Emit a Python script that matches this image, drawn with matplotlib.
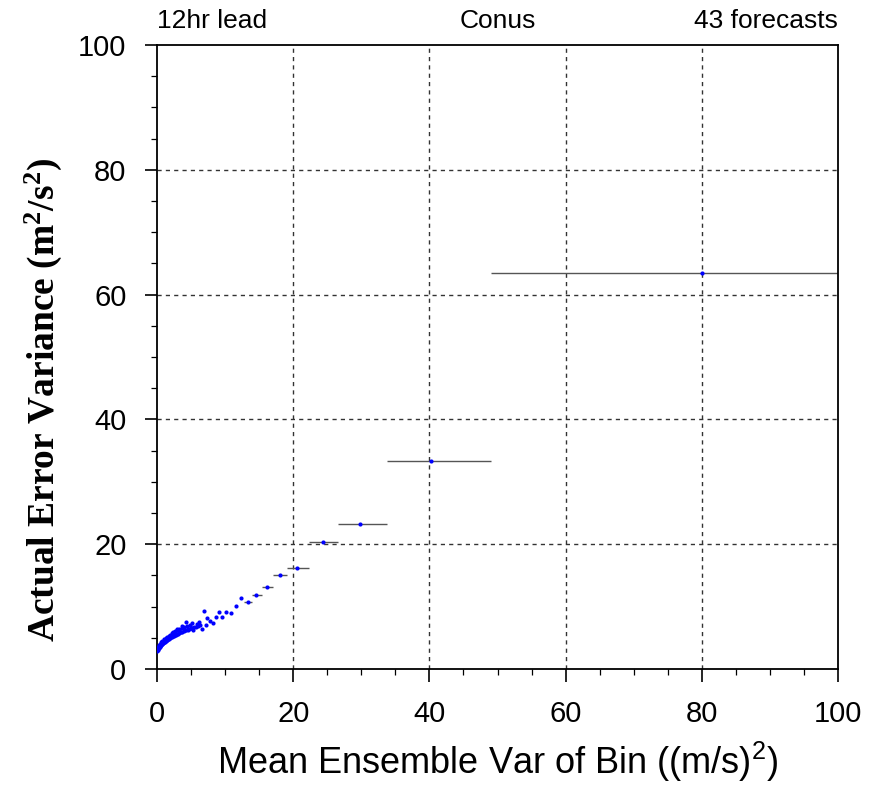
import matplotlib.pyplot as plt

# dense small-variance bins (no visible bin bars)
var_small = [0.03, 0.08, 0.12, 0.18, 0.22, 0.28, 0.33, 0.38, 0.45, 0.5, 0.55, 0.62, 0.68,
             0.75, 0.82, 0.9, 0.97, 1.05, 1.12, 1.2, 1.3, 1.4, 1.5, 1.6, 1.7, 1.82, 1.95,
             2.05, 2.2, 2.35, 2.5, 2.65, 2.8, 2.95, 3.1, 3.25, 3.4, 3.55, 3.7, 3.9, 4.1,
             4.3, 4.5, 4.7, 4.95, 5.2, 5.45, 5.7, 6.0, 6.3,
             0.1, 0.25, 0.4, 0.6, 0.8, 1.0, 1.25, 1.45, 1.7, 1.9, 2.15, 2.4, 2.7,
             3.0, 3.3, 3.6, 3.95, 4.4, 4.8, 5.1,
             2.6, 2.9, 3.3, 3.6, 4.26, 4.6, 4.94, 5.34, 5.8, 6.1, 6.6, 6.9,
             7.2, 7.4, 7.8, 8.2, 8.6, 9.1, 9.6, 10.2, 10.9, 11.6, 12.4]
err_small = [2.95, 3.1, 3.2, 3.3, 3.35, 3.45, 3.55, 3.6, 3.7, 3.75, 3.85, 3.9, 4.0,
             4.05, 4.15, 4.2, 4.3, 4.35, 4.4, 4.5, 4.55, 4.65, 4.7, 4.8, 4.85, 4.95, 5.0,
             5.05, 5.15, 5.25, 5.3, 5.4, 5.5, 5.6, 5.65, 5.75, 5.85, 5.9, 6.0, 6.1, 6.2,
             6.25, 6.35, 6.4, 6.5, 6.55, 6.65, 6.75, 6.9, 7.0,
             3.5, 3.8, 4.0, 4.35, 4.55, 4.8, 5.0, 5.2, 5.35, 5.5, 5.7, 5.9, 6.1,
             6.2, 6.45, 6.6, 6.75, 6.95, 7.1, 7.3,
             6.0, 6.4, 6.3, 6.9, 7.6, 6.3, 6.5, 6.3, 7.2, 7.6, 6.4, 9.3,
             7.0, 8.1, 7.7, 7.3, 8.4, 9.1, 8.4, 9.2, 8.9, 10.1, 11.4]

# larger bins with bin width bars
var_big = [13.4, 14.6, 16.1, 18.1, 20.6, 24.4, 29.8, 40.2, 80.0]
err_big = [10.8, 11.9, 13.2, 15.1, 16.2, 20.3, 23.3, 33.3, 63.5]
bin_lo = [12.8, 13.9, 15.4, 17.0, 19.1, 22.3, 26.6, 33.8, 49.0]
bin_hi = [13.9, 15.4, 17.0, 19.1, 22.3, 26.6, 33.8, 49.0, 110.0]

plt.rcParams['mathtext.default'] = 'regular'

fig = plt.figure(figsize=(8.69, 7.85), dpi=100)
ax = fig.add_axes([0.1807, 0.1478, 0.7836, 0.7949])

ax.hlines(err_big, bin_lo, bin_hi, color='#555555', linewidth=1.0, zorder=2)
ax.plot(var_small, err_small, 'o', color='#0000ff', markersize=3.0, markeredgewidth=0, zorder=3)
ax.plot(var_big, err_big, 'o', color='#0000ff', markersize=3.0, markeredgewidth=0, zorder=3)

ax.set_xlim(0, 100)
ax.set_ylim(0, 100)
ax.set_xticks([0, 20, 40, 60, 80, 100])
ax.set_yticks([0, 20, 40, 60, 80, 100])
ax.set_xticks(range(0, 101, 5), minor=True)
ax.set_yticks(range(0, 101, 5), minor=True)
ax.tick_params(which='major', direction='out', length=9, width=1.2, labelsize=21, pad=13)
ax.tick_params(which='minor', direction='out', length=4.5, width=0.9)
for lab in ax.get_xticklabels() + ax.get_yticklabels():
    lab.set_family('Liberation Sans')

for v in [20, 40, 60, 80]:
    ax.axvline(v, color='#333333', linestyle=(0, (3, 3)), linewidth=1.0, zorder=1)
    ax.axhline(v, color='#333333', linestyle=(0, (3, 3)), linewidth=1.0, zorder=1)

for s in ax.spines.values():
    s.set_linewidth(1.3)

ax.set_xlabel('Mean Ensemble Var of Bin ((m/s)$^2$)', fontsize=26, family='Liberation Sans', labelpad=9)
ax.set_ylabel('Actual Error Variance (m$^2$/s$^2$)', fontsize=27, family='Liberation Serif',
              fontweight='bold')
ax.yaxis.set_label_coords(-0.137, 0.431)

ax.text(0.0, 1.02, '12hr lead', transform=ax.transAxes, fontsize=19, family='Liberation Sans', ha='left', va='bottom')
ax.text(0.5, 1.02, 'Conus', transform=ax.transAxes, fontsize=19, family='Liberation Sans', ha='center', va='bottom')
ax.text(1.0, 1.02, '43 forecasts', transform=ax.transAxes, fontsize=19, family='Liberation Sans', ha='right', va='bottom')

fig.savefig('out.png', dpi=100)
